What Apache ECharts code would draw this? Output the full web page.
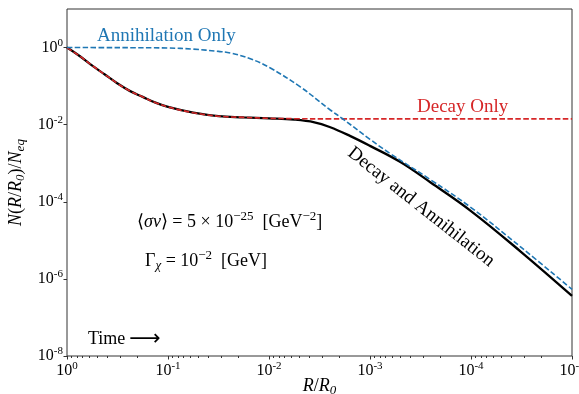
<!DOCTYPE html>
<html>
<head>
<meta charset="utf-8">
<script src="https://cdn.jsdelivr.net/npm/echarts@6/dist/echarts.min.js"></script>
<style>
  html, body { margin: 0; padding: 0; background: #fff; }
  #chart { width: 579px; height: 394px; }
</style>
</head>
<body>
<div id="chart"></div>
<script>
// R/R0 and N/Neq
const xBoth = [1, 0.75, 0.562, 0.422, 0.316, 0.237, 0.178, 0.133, 0.1, 0.0562, 0.0316, 0.0178, 0.01, 0.00562, 0.00355, 0.00251, 0.00158, 0.001, 5.0e-4, 2.51e-4, 1e-4, 3.16e-5, 1e-5];
const yBoth = [1, 0.603, 0.339, 0.2, 0.117, 0.0741, 0.0525, 0.0372, 0.0288, 0.0204, 0.0166, 0.0155, 0.0146, 0.0135, 0.0115, 0.0087, 0.00513, 0.00282, 0.00107, 3.16e-4, 5.75e-5, 4.9e-6, 3.63e-7];

const xDecay = [1, 0.75, 0.562, 0.422, 0.316, 0.237, 0.178, 0.133, 0.1, 0.0562, 0.0316, 0.0178, 0.01, 0.00562, 0.00251, 0.001, 1e-4, 1e-5];
const yDecay = [1, 0.603, 0.339, 0.2, 0.117, 0.0741, 0.0525, 0.0372, 0.0288, 0.0204, 0.0166, 0.0155, 0.0146, 0.0143, 0.0141, 0.0141, 0.0141, 0.0141];

const xAnn = [1, 0.316, 0.1, 0.0562, 0.0316, 0.0242, 0.0153, 0.0097, 0.0049, 0.00247, 0.00188, 0.001, 6.31e-4, 2.51e-4, 1e-4, 3.16e-5, 1e-5];
const yAnn = [1, 0.995, 0.973, 0.912, 0.794, 0.724, 0.513, 0.295, 0.0955, 0.024, 0.01445, 0.00417, 0.00178, 3.72e-4, 7.08e-5, 6.46e-6, 5.37e-7];

const xTicks = [1, 0.1, 0.01, 1e-3, 1e-4, 1e-5];
const yTicks = [1e-8, 1e-6, 1e-4, 1e-2, 1];

const serif = 'Liberation Serif';
const xMinor = [];
for (let e = -5; e < 0; e++) {
  for (let m = 2; m <= 9; m++) xMinor.push(m * Math.pow(10, e));
}

const chart = echarts.init(document.getElementById('chart'));

function pow10(v) {
  const e = Math.round(Math.log10(v));
  return '{b|10}{e|' + e + '}';
}
const tickRich = {
  b: { fontFamily: serif, fontSize: 16, color: '#000' },
  e: { fontFamily: serif, fontSize: 11, color: '#000', padding: [0, 0, 9, 0] }
};
const mathRich = {
  n: { fontFamily: serif, fontSize: 18, color: '#000' },
  i: { fontFamily: serif, fontSize: 18, fontStyle: 'italic', color: '#000' },
  s: { fontFamily: serif, fontSize: 13, color: '#000', padding: [0, 0, 11, 0] },
  d: { fontFamily: serif, fontSize: 13, fontStyle: 'italic', color: '#000', padding: [9, 0, 0, 0] },
  a: { fontFamily: 'DejaVu Sans', fontSize: 22, color: '#000', padding: [0, 0, 0, 4] }
};

const pairs = (xs, ys) => xs.map((x, i) => [x, ys[i]]);

const option = {
  animation: false,
  grid: {
    left: 67, right: 7, top: 9, bottom: 38, outerBoundsMode: 'none',
    show: true, borderColor: '#333', borderWidth: 1
  },
  xAxis: [{
    type: 'log', logBase: 10, inverse: true, min: 1e-5, max: 1,
    name: '{i|R}{n|/}{i|R}{d|0}', nameLocation: 'middle', nameGap: 19, nameMoveOverlap: false,
    nameTextStyle: { rich: mathRich },
    axisLine: { show: false },
    axisTick: { length: 3.5, lineStyle: { color: '#333' }, customValues: xTicks },
    axisLabel: { formatter: pow10, rich: tickRich, margin: 5, customValues: xTicks },
    splitLine: { show: false }
  }, {
    type: 'log', logBase: 10, inverse: true, min: 1e-5, max: 1, position: 'bottom',
    axisLine: { show: false },
    axisTick: { length: 2, lineStyle: { color: '#333' }, customValues: xMinor },
    axisLabel: { show: false },
    splitLine: { show: false }
  }],
  yAxis: {
    type: 'log', logBase: 10, min: 1e-8, max: 10,
    name: '{i|N}{n|(}{i|R}{n|/}{i|R}{d|0}{n|)/}{i|N}{d|eq}', nameLocation: 'middle', nameGap: 39,
    nameTextStyle: { rich: mathRich },
    axisLine: { show: false },
    axisTick: { length: 3.5, lineStyle: { color: '#333' }, customValues: yTicks },
    axisLabel: { formatter: pow10, rich: tickRich, margin: 4, customValues: yTicks },
    splitLine: { show: false }
  },
  series: [{
    name: 'Decay and Annihilation', type: 'line', showSymbol: false, smooth: 0.4,
    lineStyle: { color: '#000', width: 2.3 },
    data: pairs(xBoth, yBoth)
  }, {
    name: 'Decay Only', type: 'line', showSymbol: false, smooth: 0.4,
    lineStyle: { color: '#d62728', width: 1.6, type: [5.5, 2.4] },
    data: pairs(xDecay, yDecay)
  }, {
    name: 'Annihilation Only', type: 'line', showSymbol: false, smooth: 0.4,
    lineStyle: { color: '#1f77b4', width: 1.6, type: [5.5, 2.4] },
    data: pairs(xAnn, yAnn)
  }],
  graphic: [
    { type: 'text', x: 97, y: 36, style: { text: 'Annihilation Only', font: '19px "Liberation Serif"', fill: '#1f77b4', verticalAlign: 'middle', textVerticalAlign: 'middle' } },
    { type: 'text', x: 417, y: 107, style: { text: 'Decay Only', font: '19px "Liberation Serif"', fill: '#d62728', verticalAlign: 'middle', textVerticalAlign: 'middle' } },
    { type: 'text', x: 421, y: 207, rotation: -0.668, style: { text: 'Decay and Annihilation', font: '19px "Liberation Serif"', fill: '#000', align: 'center', textAlign: 'center', verticalAlign: 'middle', textVerticalAlign: 'middle' } },
    { type: 'text', x: 137, y: 222, style: { text: '{n|⟨}{i|σv}{n|⟩ = 5 × 10}{s|−25}{n|  [GeV}{s|−2}{n|]}', rich: mathRich, verticalAlign: 'middle', textVerticalAlign: 'middle' } },
    { type: 'text', x: 145, y: 261, style: { text: '{n|Γ}{d|χ}{n| = 10}{s|−2}{n|  [GeV]}', rich: mathRich, verticalAlign: 'middle', textVerticalAlign: 'middle' } },
    { type: 'text', x: 88, y: 339, style: { text: '{n|Time}{a|⟶}', rich: mathRich, verticalAlign: 'middle', textVerticalAlign: 'middle' } }
  ]
};
chart.setOption(option);
</script>
</body>
</html>
